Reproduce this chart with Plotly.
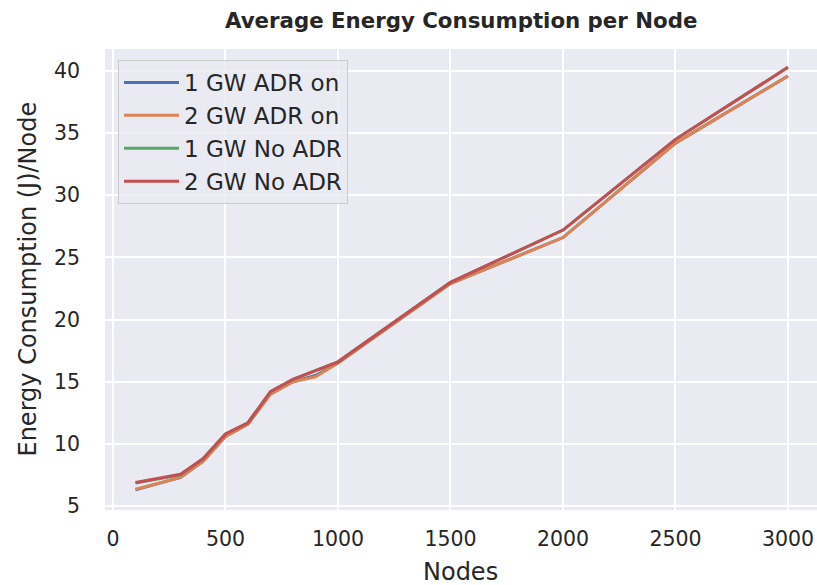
import plotly.graph_objects as go

nodes = [100, 300, 400, 500, 600, 700, 800, 900, 1000, 1500, 2000, 2500, 3000]
gw1_adr_on = [6.3, 7.3, 8.6, 10.6, 11.6, 14.0, 15.0, 15.5, 16.5, 22.9, 26.6, 34.2, 39.6]
gw2_adr_on = [6.35, 7.3, 8.6, 10.6, 11.6, 14.0, 15.0, 15.4, 16.5, 22.9, 26.6, 34.2, 39.6]
gw1_no_adr = [6.85, 7.5, 8.8, 10.8, 11.7, 14.2, 15.2, 15.9, 16.6, 23.0, 27.2, 34.5, 40.3]
gw2_no_adr = [6.9, 7.55, 8.8, 10.8, 11.7, 14.2, 15.2, 15.9, 16.6, 23.0, 27.2, 34.5, 40.3]

series = [
    ("1 GW ADR on", gw1_adr_on, "#4C72B0"),
    ("2 GW ADR on", gw2_adr_on, "#DD8452"),
    ("1 GW No ADR", gw1_no_adr, "#55A868"),
    ("2 GW No ADR", gw2_no_adr, "#C44E52"),
]

x_ticks = [0, 500, 1000, 1500, 2000, 2500, 3000]
y_ticks = [5, 10, 15, 20, 25, 30, 35, 40]

TXT = "#262626"
FONT = "DejaVu Sans"

fig = go.Figure()
for name, vals, col in series:
    fig.add_trace(go.Scatter(x=nodes, y=vals, mode="lines", name=name,
                             line=dict(color=col, width=3)))

W, H = 817, 585
L, R, T, B = 105, 0, 49, 75
pw, ph = W - L - R, H - T - B

fig.update_layout(
    width=W, height=H,
    margin=dict(l=L, r=R, t=T, b=B, pad=0),
    paper_bgcolor="white", plot_bgcolor="#EAEAF2",
    font=dict(family=FONT, color=TXT, size=20),
    showlegend=True,
    legend=dict(x=(118 - L) / pw, y=1 - (60 - T) / ph, xanchor="left", yanchor="top",
                bgcolor="rgba(234,234,242,0.8)", bordercolor="#CCCCCC", borderwidth=1,
                font=dict(size=23, family=FONT, color=TXT), tracegroupgap=0,
                itemwidth=55),
    xaxis=dict(range=[-35.5, 3129], tickvals=x_ticks, showgrid=True, gridcolor="white",
               gridwidth=2, zeroline=False, showline=False, ticks="",
               tickfont=dict(size=20.5), ticklabelstandoff=14),
    yaxis=dict(range=[4.68, 41.77], tickvals=y_ticks, showgrid=True, gridcolor="white",
               gridwidth=2, zeroline=False, showline=False, ticks="",
               tickfont=dict(size=20.5), ticklabelstandoff=24),
)

fig.add_annotation(text="<b>Average Energy Consumption per Node</b>", xref="paper", yref="paper",
                   x=0.5, y=1 + (T - 20) / ph, xanchor="center", yanchor="middle",
                   showarrow=False, font=dict(family=FONT, size=21.3, color=TXT))
fig.add_annotation(text="Nodes", xref="paper", yref="paper",
                   x=(460 - L) / pw, y=-(572 - (T + ph)) / ph, xanchor="center", yanchor="middle",
                   showarrow=False, font=dict(family=FONT, size=24, color=TXT))
fig.add_annotation(text="Energy Consumption (J)/Node", xref="paper", yref="paper",
                   x=(27 - L) / pw, y=0.5, xanchor="center", yanchor="middle", textangle=-90,
                   showarrow=False, font=dict(family=FONT, size=24, color=TXT))

fig.write_html("out.html", config={"displayModeBar": False},
               post_script="document.body.style.margin='0';document.body.style.overflow='hidden';")
